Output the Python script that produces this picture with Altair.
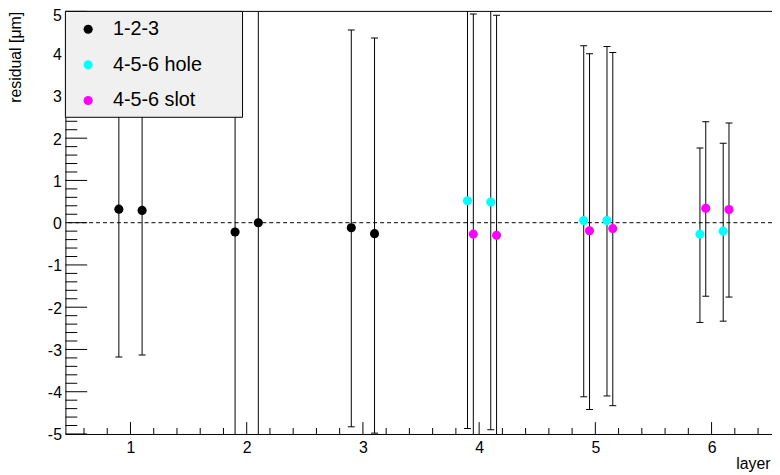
import altair as alt
import pandas as pd

# ---------------- data ----------------
series_names = ["1-2-3", "4-5-6 hole", "4-5-6 slot"]
series_colors = ["#000000", "#00ffff", "#ff00ff"]

x_123 = [0.9, 1.1, 1.9, 2.1, 2.9, 3.1]
y_123 = [0.32, 0.29, -0.22, 0.00, -0.12, -0.26]
lo_123 = [-3.18, -3.13, -6.5, -6.3, -4.83, -4.98]
hi_123 = [3.82, 3.71, 6.1, 6.3, 4.56, 4.37]

x_hole = [3.9, 4.1, 4.9, 5.1, 5.9, 6.1]
y_hole = [0.52, 0.49, 0.05, 0.05, -0.27, -0.20]
lo_hole = [-4.87, -4.90, -4.12, -4.10, -2.36, -2.33]
hi_hole = [5.9, 5.9, 4.19, 4.17, 1.77, 1.88]

x_slot = [3.95, 4.15, 4.95, 5.15, 5.95, 6.15]
y_slot = [-0.27, -0.30, -0.19, -0.14, 0.34, 0.31]
lo_slot = [-5.5, -5.5, -4.42, -4.33, -1.74, -1.76]
hi_slot = [4.94, 4.91, 4.00, 4.03, 2.39, 2.36]

x_labels = [1, 2, 3, 4, 5, 6]
y_labels = [-5, -4, -3, -2, -1, 0, 1, 2, 3, 4, 5]
x_minor = [round(0.6 + 0.2 * i, 1) for i in range(30)]
y_minor = [round(-5 + 0.2 * i, 1) for i in range(51)]

x_domain = [0.44, 6.52]
y_domain = [-5, 5]

# ---------------- tables ----------------
rows = []
for name, xs, ys, los, his in [
    (series_names[0], x_123, y_123, lo_123, hi_123),
    (series_names[1], x_hole, y_hole, lo_hole, hi_hole),
    (series_names[2], x_slot, y_slot, lo_slot, hi_slot),
]:
    for a, b, c, d in zip(xs, ys, los, his):
        rows.append({"series": name, "layer": a, "residual": b, "lo": c, "hi": d})
df = pd.DataFrame(rows)

xmaj = pd.DataFrame({"v": x_labels})
xmin = pd.DataFrame({"v": [v for v in x_minor if abs(v - round(v)) > 1e-6]})
ymaj = pd.DataFrame({"v": y_labels})
ymin = pd.DataFrame({"v": [v for v in y_minor if abs(v - round(v)) > 1e-6]})
one = pd.DataFrame({"k": [0]})

W, H = 714, 427
FONT = "Liberation Sans"

x_scale = alt.Scale(domain=x_domain, nice=False, zero=False)
y_scale = alt.Scale(domain=y_domain, nice=False, zero=False)

x_axis = alt.Axis(
    values=x_labels, ticks=False, tickSize=0, grid=False,
    labelExpr="'' + datum.value", labelFont=FONT, labelFontSize=16,
    labelColor="black", labelPadding=6,
    domainColor="black", domainWidth=1,
    titleX=712, titleY=35, titleAlign="right", titleBaseline="alphabetic",
    titleFont=FONT, titleFontSize=16, titleFontWeight="normal", titleColor="black",
)
y_axis = alt.Axis(
    values=y_labels, ticks=False, tickSize=0, grid=False,
    labelExpr="'' + datum.value", labelFont=FONT, labelFontSize=16,
    labelColor="black", labelPadding=4,
    labelOffset={"condition": {"test": "datum.value == 5", "value": 4.5}, "value": 1},
    domainColor="black", domainWidth=1,
    titleX=-45, titleY=0, titleAlign="right", titleAngle=270,
    titleBaseline="alphabetic",
    titleFont=FONT, titleFontSize=16, titleFontWeight="normal", titleColor="black",
)


def X(field):
    return alt.X(field, type="quantitative", scale=x_scale, axis=x_axis, title="layer")


def Y(field):
    return alt.Y(field, type="quantitative", scale=y_scale, axis=y_axis, title="residual [μm]")


base = alt.Chart(df)

# inward tick marks (ROOT style)
y_major_ticks = alt.Chart(ymaj).mark_rule(color="black", strokeWidth=1).encode(
    y=Y("v"), x=alt.value(0), x2=alt.value(22))
y_minor_ticks = alt.Chart(ymin).mark_rule(color="black", strokeWidth=1).encode(
    y=Y("v"), x=alt.value(0), x2=alt.value(12))
x_major_ticks = alt.Chart(xmaj).mark_rule(color="black", strokeWidth=1).encode(
    x=X("v"), y=alt.value(H), y2=alt.value(H - 12))
x_minor_ticks = alt.Chart(xmin).mark_rule(color="black", strokeWidth=1).encode(
    x=X("v"), y=alt.value(H), y2=alt.value(H - 6))

top_frame = alt.Chart(one).mark_rule(color="black", strokeWidth=1).encode(y=alt.datum(5))

zero_line = alt.Chart(one).mark_rule(color="black", strokeWidth=1, strokeDash=[4, 3]).encode(
    y=alt.datum(0))

bars = base.mark_rule(color="black", strokeWidth=1, clip=True).encode(
    x=X("layer"), y=Y("lo"), y2="hi:Q")
caps_lo = base.mark_tick(color="black", orient="horizontal", size=7, thickness=1,
                         opacity=1, clip=True).encode(x=X("layer"), y=Y("lo"))
caps_hi = base.mark_tick(color="black", orient="horizontal", size=7, thickness=1,
                         opacity=1, clip=True).encode(x=X("layer"), y=Y("hi"))

points = base.mark_circle(size=85, opacity=1).encode(
    x=X("layer"), y=Y("residual"),
    color=alt.Color(
        "series:N",
        scale=alt.Scale(domain=series_names, range=series_colors),
        legend=alt.Legend(
            title=None, orient="none", legendX=13, legendY=8,
            symbolType="circle", symbolSize=85, symbolStrokeWidth=0,
            labelFont=FONT, labelFontSize=20, labelColor="black",
            labelOffset=15, rowPadding=16, padding=0,
        ),
    ),
)

legend_box = alt.Chart(one).mark_rect(fill="#f0f0f0", stroke="black", strokeWidth=1).encode(
    x=alt.value(0), x2=alt.value(179), y=alt.value(0), y2=alt.value(107))

chart = alt.layer(
    y_major_ticks, y_minor_ticks, x_major_ticks, x_minor_ticks,
    zero_line, bars, caps_lo, caps_hi, points, top_frame, legend_box,
).properties(
    width=W, height=H,
    padding={"left": 58, "top": 1, "right": 0, "bottom": 38},
    autosize=alt.AutoSizeParams(type="none"),
).configure_view(stroke="transparent")

chart.save("out.html", embed_options={"renderer": "svg", "actions": False})
